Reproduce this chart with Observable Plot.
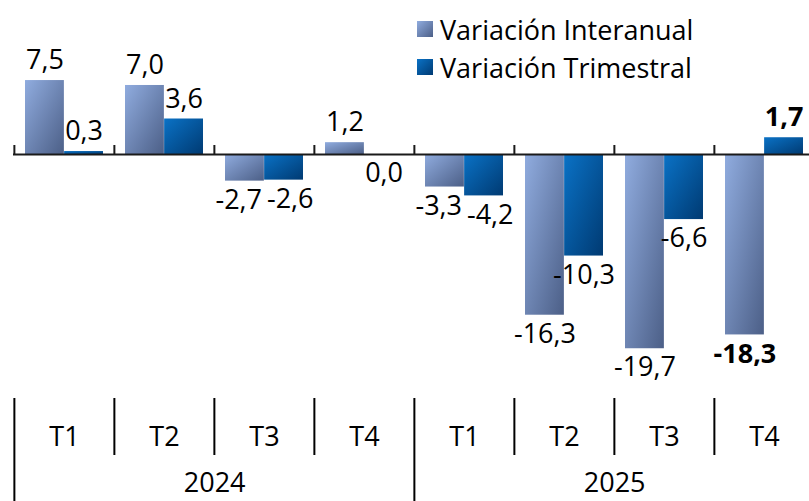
<!DOCTYPE html>
<html><head><meta charset="utf-8">
<script src="https://cdn.jsdelivr.net/npm/d3@7"></script>
<script src="https://cdn.jsdelivr.net/npm/@observablehq/plot@0.6"></script>
<style>
body{margin:0;background:#fff;}
#wrap{position:relative;width:809px;height:501px;overflow:hidden;font-family:"Open Sans",sans-serif;}
#legend{position:absolute;left:417px;top:10px;font-size:27px;color:#000;}
.item{display:flex;align-items:center;height:38px;white-space:nowrap;}
.sw{width:16px;height:16px;margin-right:7px;flex:none;}
</style></head><body><div id="wrap"><div id="chart"></div><div id="legend"></div></div>
<script>
const years = ["2024","2024","2024","2024","2025","2025","2025","2025"];
const quarters = ["T1","T2","T3","T4","T1","T2","T3","T4"];
const interanual = [7.5, 7.0, -2.7, 1.2, -3.3, -16.3, -19.7, -18.3];
const trimestral = [0.3, 3.6, -2.6, 0.0, -4.2, -10.3, -6.6, 1.7];
const seriesNames = ["Variación Interanual", "Variación Trimestral"];

const rows = quarters.map((q, i) => ({key: years[i] + " " + q, q, year: years[i], ia: interanual[i], tr: trimestral[i], i}));
const keys = rows.map(d => d.key);
const lastI = rows.length - 1;

const W = 809, H = 501;
const x0 = 13, x1 = 815;
const bw = (x1 - x0) / keys.length;
const pad = 11;
const barW = (bw - 2 * pad) / 2;
const FS = 27;
const yDomain = [-20, 10], yRange = [154 + 20 * 9.86, 154 - 10 * 9.86];
const yPx = d3.scaleLinear(yDomain, yRange);
const fmt = v => v.toFixed(1).replace(".", ",");

// value labels with simple collision avoidance (computed from text widths)
const ctx = document.createElement("canvas").getContext("2d");
const textW = (s, bold) => { ctx.font = `${bold ? "bold " : ""}${FS}px "Open Sans"`; return ctx.measureText(s).width; };
const labelRecs = [];
rows.forEach(d => {
  const bold = d.i === lastI;
  const recs = [["ia", -barW / 2], ["tr", barW / 2]].map(([f, cx]) => {
    const v = d[f], dy = v > 0 ? -20 : 19;
    return {key: d.key, v, text: fmt(v), bold, dx: cx, dy, w: textW(fmt(v), bold), py: yPx(v) + dy};
  });
  const [A, B] = recs;
  if (Math.abs(A.py - B.py) < FS * 0.8) {
    const ov = (A.w / 2 + B.w / 2 + 5) - (B.dx - A.dx);
    if (ov > 0) { A.dx -= ov / 2; B.dx += ov / 2; }
  }
  labelRecs.push(...recs);
});
const labelMarks = labelRecs.map(r => Plot.text([r], {x: "key", y: "v", text: "text", dx: r.dx, dy: r.dy, fontSize: FS, fontWeight: r.bold ? "bold" : "normal", fill: "#000"}));

const chart = Plot.plot({
  width: W, height: H,
  marginLeft: x0, marginRight: 0, marginTop: 398, marginBottom: 0,
  style: {fontFamily: "'Open Sans', sans-serif", fontSize: FS + "px", background: "#fff", color: "#000"},
  x: {type: "band", domain: keys, range: [x0, x1], padding: 0, axis: null},
  y: {domain: yDomain, range: yRange, axis: null},
  marks: [
    Plot.barY(rows, {x: "key", y: "ia", fill: "url(#gIA)", insetLeft: pad, insetRight: pad + barW}),
    Plot.barY(rows, {x: "key", y: "tr", fill: "url(#gTR)", insetLeft: pad + barW, insetRight: pad}),
    Plot.ruleY([0], {stroke: "#1a1a1a", strokeWidth: 2}),
    Plot.ruleX(rows, {x: "key", y1: 0, y2: 0, dx: -bw / 2, insetTop: -9, stroke: "#1a1a1a", strokeWidth: 2}),
    ...labelMarks,
    Plot.ruleX(rows.filter(d => d.q !== "T1"), {x: "key", dx: -bw / 2, insetBottom: 46, stroke: "#000", strokeWidth: 2}),
    Plot.ruleX(rows.filter(d => d.q === "T1"), {x: "key", dx: -bw / 2, stroke: "#000", strokeWidth: 2}),
    Plot.text(rows, {x: "key", text: "q", frameAnchor: "bottom", lineAnchor: "middle", dy: -64, fontSize: FS, fill: "#000"}),
    Plot.text(rows.filter(d => d.q === "T2"), {x: "key", text: "year", frameAnchor: "bottom", lineAnchor: "middle", dy: -18, dx: bw / 2, fontSize: FS, fill: "#000"})
  ]
});

const defs = d3.create("svg:defs");
function grad(id, c0, c1) {
  const g = defs.append("linearGradient").attr("id", id).attr("x1", 0).attr("y1", 0).attr("x2", 1).attr("y2", 1);
  g.append("stop").attr("offset", "0%").attr("stop-color", c0);
  g.append("stop").attr("offset", "100%").attr("stop-color", c1);
}
grad("gIA", "#90acdf", "#4c5f87");
grad("gTR", "#0a72c6", "#003a72");
chart.insertBefore(defs.node(), chart.firstChild);
document.getElementById("chart").appendChild(chart);

const legendColors = [["#90acdf", "#4c5f87"], ["#0a72c6", "#003a72"]];
const legend = d3.select("#legend");
seriesNames.forEach((n, i) => {
  const it = legend.append("div").attr("class", "item");
  it.append("div").attr("class", "sw").style("background", `linear-gradient(135deg, ${legendColors[i][0]}, ${legendColors[i][1]})`);
  it.append("span").text(n);
});
</script></body></html>
